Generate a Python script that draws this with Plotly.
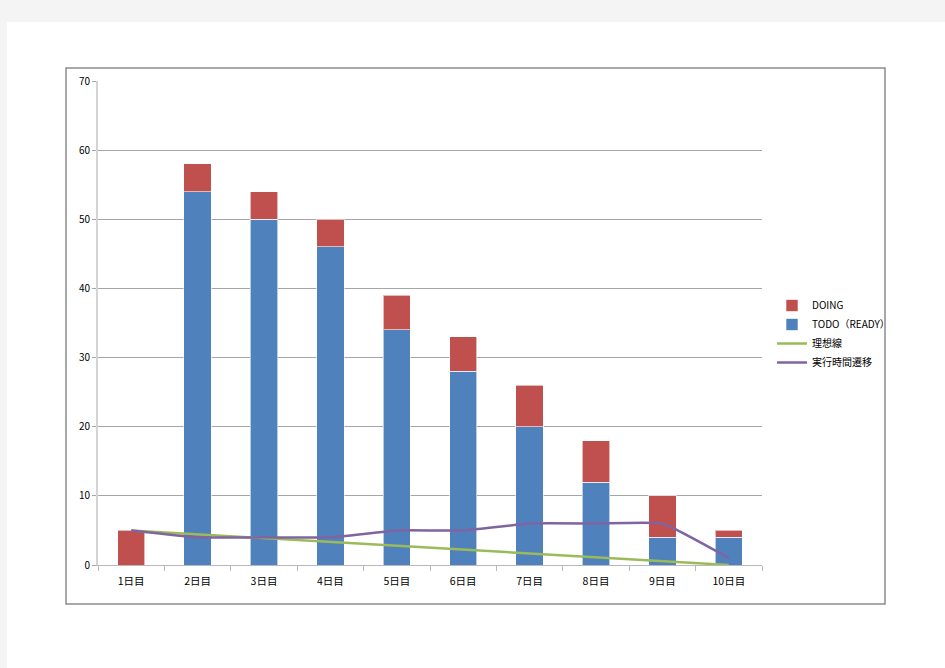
import plotly.graph_objects as go

days = ["1日目", "2日目", "3日目", "4日目", "5日目", "6日目", "7日目", "8日目", "9日目", "10日目"]
todo = [0, 54, 50, 46, 34, 28, 20, 12, 4, 4]
doing = [5, 4, 4, 4, 5, 5, 6, 6, 6, 1]
ideal = [5, 4.44, 3.89, 3.33, 2.78, 2.22, 1.67, 1.11, 0.56, 0]
actual = [5, 4, 4, 4, 5, 5, 6, 6, 6, 1]
y_ticks = [0, 10, 20, 30, 40, 50, 60, 70]

FONT = "Noto Sans CJK JP"
bar_line = dict(color="rgba(255,255,255,0.6)", width=1)

fig = go.Figure()
fig.add_trace(go.Bar(x=days, y=todo, name="TODO（READY）", marker=dict(color="#4F81BD", line=bar_line), legendrank=2))
fig.add_trace(go.Bar(x=days, y=doing, name="DOING", marker=dict(color="#C0504D", line=bar_line), legendrank=1))
fig.add_trace(go.Scatter(x=days, y=ideal, name="理想線", mode="lines",
                         line=dict(color="#9BBB59", width=2.5), legendrank=3))
fig.add_trace(go.Scatter(x=days, y=actual, name="実行時間遷移", mode="lines",
                         line=dict(color="#8064A2", width=2.5, shape="spline", smoothing=0.35), legendrank=4))

W, H = 945, 668
L, R, T, B = 98, 183, 81, 103
pw, ph = W - L - R, H - T - B

def px(x):
    return (x - L) / pw

def py(y):
    return (H - B - y) / ph

shapes = [
    dict(type="rect", xref="paper", yref="paper", x0=px(7), x1=px(950), y0=py(680), y1=py(22),
         fillcolor="white", line=dict(width=0), layer="below"),
    dict(type="rect", xref="paper", yref="paper", x0=px(66), x1=px(885), y0=py(604), y1=py(68),
         fillcolor="rgba(0,0,0,0)", line=dict(color="#8c8c8c", width=1.5), layer="below"),
]

fig.update_layout(
    width=W, height=H,
    margin=dict(l=L, r=R, t=T, b=B),
    paper_bgcolor="#f4f4f4",
    plot_bgcolor="rgba(0,0,0,0)",
    barmode="stack",
    bargap=0.59,
    font=dict(family=FONT, size=10, color="#000000"),
    shapes=shapes,
    showlegend=True,
    legend=dict(x=px(772), y=py(291), xanchor="left", yanchor="top",
                bgcolor="rgba(0,0,0,0)", font=dict(size=10, family=FONT),
                itemwidth=30, traceorder="normal"),
    xaxis=dict(showgrid=False, showline=True, linecolor="#b8b8b8", linewidth=1,
               ticks="outside", tickson="boundaries", ticklen=5, tickcolor="#b8b8b8",
               ticklabelstandoff=6,
               tickfont=dict(size=10.5, family=FONT), range=[-0.5, 9.5], fixedrange=True),
    yaxis=dict(range=[0, 70], tickvals=y_ticks, showgrid=True, gridcolor="#a6a6a6", gridwidth=1,
               showline=True, linecolor="#d4d4d4", linewidth=2, ticks="outside", ticklen=4,
               tickcolor="#a6a6a6", zeroline=False, tickfont=dict(size=10, family=FONT)),
)

fig.write_html("out.html", config={"displayModeBar": False},
               post_script="document.body.style.margin='0';document.body.style.background='#f4f4f4';")
